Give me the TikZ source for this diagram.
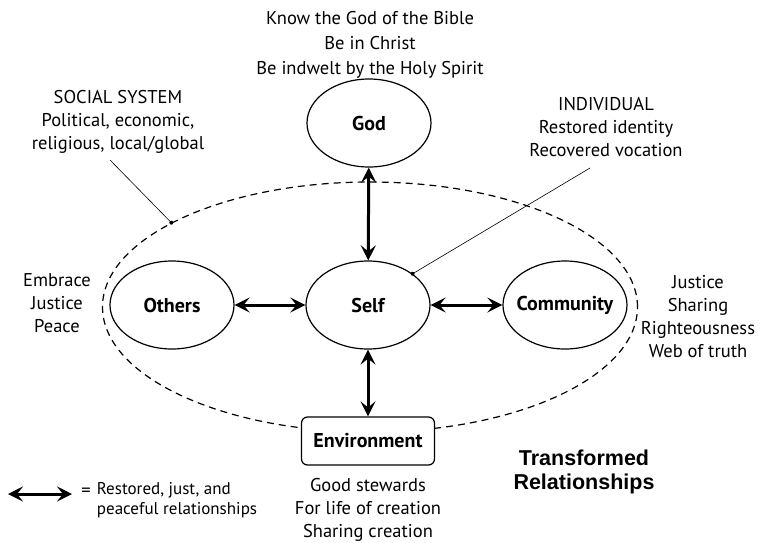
\documentclass[tikz,border=0pt]{standalone}
\usepackage{fontspec}
\setmainfont{PT Sans}
\newfontfamily\titlefont{Liberation Sans}
\usetikzlibrary{arrows.meta, shapes.geometric}

\begin{document}
\begin{tikzpicture}[x=1pt, y=-1pt, line width=1.2pt,
  font=\fontsize{18.5}{23}\selectfont,
  tip/.tip={Stealth[length=15pt, width=15pt, inset=6pt]},
  rel/.style={tip-tip, line width=3pt},
  oval/.style={draw, ellipse, minimum width=124pt, minimum height=88pt,
    inner sep=0pt, label={[font=\fontsize{20}{22}\selectfont\bfseries]center:#1}},
  lead/.style={line width=0.6pt}]
  % marco
  \useasboundingbox (0,0) rectangle (764,542);
  % sistema social (elipse discontinua)
  \node[draw, ellipse, dash pattern=on 7pt off 5pt, minimum width=535pt,
    minimum height=250pt] (sys) at (370,307) {};
  % nodos
  \node[oval=God] (god) at (369,123) {};
  \node[oval=Self] (self) at (368,305) {};
  \node[oval=Others] (others) at (172,305) {};
  \node[oval=Community] (comm) at (565,305) {};
  \node[draw, rounded corners=6pt, fill=white, minimum width=133pt,
    minimum height=48pt, font=\fontsize{20}{22}\selectfont\bfseries]
    (env) at (368,441) {Environment};
  % relaciones
  \draw[rel] (god) -- (self);
  \draw[rel] (others) -- (self);
  \draw[rel] (self) -- (comm);
  \draw[rel] (self) -- (env);
  % textos
  \node[align=center] (know) at (370,45)
    {Know the God of the Bible\\[2pt]Be in Christ\\[2pt]Be indwelt by the Holy Spirit};
  \node[align=center] (social) at (118,122)
    {SOCIAL SYSTEM\\Political, economic,\\religious, local/global};
  \node[align=center] (indiv) at (606,127)
    {INDIVIDUAL\\Restored identity\\Recovered vocation};
  \node[align=center] (embrace) at (57,303) {Embrace\\Justice\\Peace};
  \node[align=center] (justice) at (698,317)
    {Justice\\Sharing\\Righteousness\\Web of truth};
  \node[align=center] (steward) at (368,510)
    {Good stewards\\For life of creation\\Sharing creation};
  \node[align=center, font=\titlefont\bfseries\fontsize{21.5}{24}\selectfont]
    (title) at (584,472) {Transformed\\Relationships};
  % lineas de llamada
  \coordinate (socend) at (110,160);
  \draw[lead] (socend) -- (sys.157);
  \fill (sys.157) circle (2pt);
  \coordinate (indend) at (590,168);
  \draw[lead] (indend) -- (self.35);
  \fill (self.35) circle (2pt);
  % leyenda
  \coordinate (legl) at (8,494);
  \coordinate (legr) at (72,494);
  \draw[rel] (legl) -- (legr);
  \node (eq) at (86,492) {=};
  \node[anchor=north west, align=left, font=\fontsize{17}{20}\selectfont]
    (legtxt) at (93,479) {Restored, just, and\\peaceful relationships};
\end{tikzpicture}
\end{document}
